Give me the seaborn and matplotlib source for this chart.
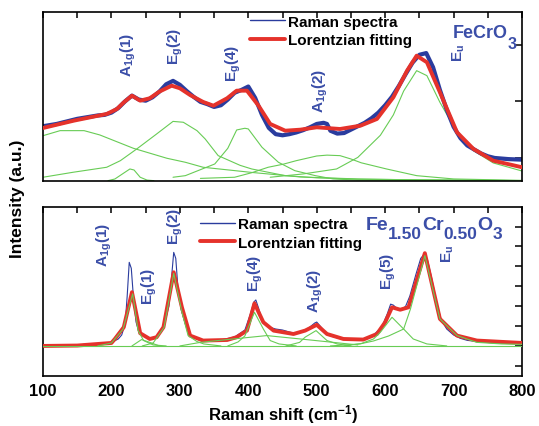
import matplotlib
matplotlib.use("Agg")
import matplotlib.pyplot as plt
from matplotlib.lines import Line2D
import seaborn as sns

# ---------------- FeCrO3 (upper panel) ----------------
fecr_shift = [100, 110, 120, 130, 140, 150, 160, 170, 180, 190, 200, 210, 220, 230, 240,
              250, 260, 270, 280, 290, 300, 310, 320, 330, 340, 350, 360, 370, 380, 390,
              400, 410, 420, 430, 440, 450, 460, 470, 480, 490, 500, 510, 515, 520, 530,
              540, 550, 560, 570, 580, 590, 600, 610, 620, 630, 640, 650, 660, 670, 680,
              690, 700, 710, 720, 730, 740, 750, 760, 770, 780, 790, 800]
fecr_raman = [1560, 1580, 1600, 1630, 1660, 1690, 1710, 1730, 1750, 1760, 1800, 1880, 2000,
              2100, 2030, 2010, 2070, 2170, 2300, 2360, 2290, 2180, 2080, 1990, 1950, 1900,
              1930, 2030, 2150, 2200, 2260, 2060, 1760, 1530, 1420, 1400, 1420, 1450, 1490,
              1540, 1600, 1620, 1600, 1480, 1430, 1440, 1500, 1560, 1620, 1700, 1800, 1930,
              2080, 2270, 2480, 2680, 2820, 2850, 2600, 2200, 1850, 1550, 1350, 1220, 1150,
              1080, 1030, 1000, 990, 980, 975, 970]

fecr_fit_shift = [100, 145, 193, 208, 218, 230, 242, 256, 270, 288, 300, 315, 334, 349, 369,
                  383, 398, 415, 432, 454, 476, 500, 534, 564, 588, 612, 632, 646, 661, 680,
                  705, 729, 758, 800]
fecr_fit = [1529, 1658, 1776, 1864, 1980, 2099, 2011, 2053, 2170, 2275, 2229, 2110, 1988,
            1922, 2053, 2187, 2187, 1922, 1600, 1481, 1499, 1541, 1511, 1570, 1688, 2071,
            2540, 2804, 2688, 2159, 1453, 1159, 952, 836]

# Lorentzian components of the FeCrO3 fit
fecr_low_x = [100, 125, 160, 183, 232, 281, 308, 334, 405, 476, 560, 650, 800]
fecr_low_y = [1393, 1482, 1482, 1406, 1171, 995, 924, 836, 745, 665, 630, 612, 600]
fecr_a1g1_x = [195, 205, 220, 227, 233, 242, 252, 262]
fecr_a1g1_y = [600, 629, 750, 806, 788, 660, 610, 600]
fecr_eg2_x = [100, 144, 193, 213, 237, 266, 290, 305, 325, 337, 356, 388, 405, 454, 500, 560, 800]
fecr_eg2_y = [660, 748, 836, 952, 1159, 1423, 1645, 1630, 1482, 1335, 1041, 870, 806, 688,
              650, 625, 600]
fecr_eg4_x = [290, 308, 351, 370, 383, 395, 400, 420, 444, 468, 498, 524, 560, 800]
fecr_eg4_y = [660, 688, 894, 1170, 1494, 1524, 1512, 1189, 924, 776, 688, 630, 610, 600]
fecr_a1g2_x = [330, 380, 405, 429, 451, 470, 500, 515, 534, 550, 565, 602, 646, 700, 800]
fecr_a1g2_y = [640, 660, 740, 836, 890, 952, 1035, 1050, 1041, 982, 915, 806, 688, 630, 605]
fecr_eu_x = [432, 480, 529, 560, 593, 612, 627, 646, 661, 680, 705, 729, 758, 800]
fecr_eu_y = [660, 718, 806, 1010, 1400, 1760, 2180, 2540, 2452, 1982, 1453, 1129, 912, 770]

fecr_modes = [r"A$_{1g}$(1)", r"E$_{g}$(2)", r"E$_{g}$(4)", r"A$_{1g}$(2)", r"E$_{u}$"]
fecr_mode_x = [224, 293, 378, 505, 707]
fecr_mode_y = [2446, 2658, 2358, 1811, 2711]

# ---------------- Fe1.50Cr0.50O3 (lower panel) ----------------
fe15_shift = [100, 150, 160, 170, 180, 190, 200, 210, 215, 220, 223, 226, 229, 232, 236, 240,
              245, 250, 258, 266, 276, 284, 288, 291, 294, 297, 302, 308, 315, 325, 340, 360,
              380, 395, 403, 408, 411, 415, 420, 430, 440, 450, 460, 470, 480, 490, 497, 500,
              505, 512, 520, 540, 560, 580, 595, 603, 608, 612, 618, 624, 630, 636, 645, 652,
              657, 662, 668, 675, 682, 690, 700, 710, 720, 740, 760, 780, 800]
fe15_raman = [0, 3, 8, 6, 10, 12, 18, 35, 55, 110, 250, 420, 390, 250, 120, 70, 55, 45, 35,
              42, 90, 200, 350, 470, 440, 300, 180, 110, 55, 35, 28, 30, 45, 80, 160, 220,
              231, 190, 130, 95, 85, 80, 70, 62, 72, 95, 115, 120, 100, 70, 50, 32, 28, 45,
              95, 160, 210, 205, 185, 180, 200, 250, 360, 440, 460, 430, 340, 220, 130, 85,
              55, 38, 28, 20, 15, 14, 12]

fe15_fit_shift = [100, 150, 200, 205, 218, 230, 242, 256, 266, 276, 291, 303, 315, 334, 369,
                  383, 398, 409, 422, 437, 466, 483, 500, 515, 539, 568, 588, 600, 610, 622,
                  634, 658, 680, 705, 734, 800]
fe15_fit = [0, 2, 15, 35, 94, 270, 64, 35, 44, 94, 370, 194, 52, 27, 30, 44, 77, 214, 119,
            77, 60, 77, 106, 60, 35, 32, 60, 119, 194, 182, 194, 466, 136, 52, 27, 15]

# Lorentzian components of the Fe1.50Cr0.50O3 fit
fe15_base_x = [100, 800]
fe15_base_y = [0, 0]
fe15_a1g1_x = [180, 200, 217, 231, 239, 247, 261, 280]
fe15_a1g1_y = [0, 15, 85, 262, 77, 27, 5, 0]
fe15_eg1_x = [230, 244, 256, 270]
fe15_eg1_y = [0, 32, 18, 0]
fe15_eg2_x = [245, 261, 277, 291, 303, 312, 325, 335, 360]
fe15_eg2_y = [0, 15, 94, 365, 170, 52, 22, 10, 0]
fe15_broad_x = [300, 330, 378, 427, 476, 524, 560]
fe15_broad_y = [0, 18, 35, 52, 35, 18, 5]
fe15_eg4_x = [370, 385, 395, 409, 422, 432, 445, 470]
fe15_eg4_y = [0, 20, 50, 169, 85, 27, 10, 0]
fe15_a1g2_x = [455, 475, 483, 499, 515, 530, 550]
fe15_a1g2_y = [0, 18, 44, 77, 27, 10, 0]
fe15_eg5_x = [540, 565, 583, 593, 610, 627, 641, 661, 690]
fe15_eg5_y = [0, 12, 35, 69, 144, 85, 35, 10, 0]
fe15_eu_x = [520, 563, 583, 605, 627, 637, 658, 680, 705, 734, 770, 800]
fe15_eu_y = [0, 10, 25, 50, 85, 186, 454, 136, 52, 18, 10, 8]

fe15_modes = [r"A$_{1g}$(1)", r"E$_{g}$(1)", r"E$_{g}$(2)", r"E$_{g}$(4)", r"A$_{1g}$(2)",
              r"E$_{g}$(5)", r"E$_{u}$"]
fe15_mode_x = [189, 256, 294, 410, 498, 604, 691]
fe15_mode_y = [402, 211, 513, 276, 171, 286, 422]

x_ticks = [100, 200, 300, 400, 500, 600, 700, 800]

# ---------------- style ----------------
sns.set_theme(style="white")
plt.rcParams["font.family"] = ["Liberation Sans", "DejaVu Sans"]
plt.rcParams["mathtext.fontset"] = "custom"
plt.rcParams["mathtext.rm"] = "Liberation Sans:bold"
plt.rcParams["mathtext.bf"] = "Liberation Sans:bold"
plt.rcParams["mathtext.it"] = "Liberation Sans:bold"
plt.rcParams["mathtext.default"] = "bf"
plt.rcParams["text.color"] = "black"
plt.rcParams["axes.labelcolor"] = "black"
plt.rcParams["xtick.color"] = "black"
plt.rcParams["ytick.color"] = "black"

BLUE = "#2a3c9e"
LABEL_BLUE = "#3b4ea8"
RED = "#e5322b"
GREEN = "#68cc55"

fig = plt.figure(figsize=(5.39, 4.27), dpi=100)
ax1 = fig.add_axes([0.0798, 0.5738, 0.8887, 0.3958])
ax2 = fig.add_axes([0.0798, 0.1171, 0.8887, 0.3958])


def line(ax, xs, ys, color, lw, z):
    sns.lineplot(x=xs, y=ys, ax=ax, color=color, linewidth=lw, estimator=None,
                 sort=False, zorder=z)


def formula(ax, x, y, parts, size, subsize, drop):
    """Chain text pieces; parts is a list of (text, is_subscript)."""
    prev = ax.text(x, y, parts[0][0], fontsize=size, fontweight="bold",
                   color=LABEL_BLUE, ha="left", va="baseline")
    prev_sub = False
    for text, sub in parts[1:]:
        dy = 0
        if sub and not prev_sub:
            dy = -drop
        elif prev_sub and not sub:
            dy = drop
        prev = ax.annotate(text, xy=(1, 0), xycoords=prev, xytext=(0, dy),
                           textcoords="offset points", ha="left", va="bottom",
                           fontsize=subsize if sub else size, fontweight="bold",
                           color=LABEL_BLUE)
        prev_sub = sub


# upper panel
for xs, ys in [(fecr_low_x, fecr_low_y), (fecr_a1g1_x, fecr_a1g1_y), (fecr_eg2_x, fecr_eg2_y),
               (fecr_eg4_x, fecr_eg4_y), (fecr_a1g2_x, fecr_a1g2_y), (fecr_eu_x, fecr_eu_y)]:
    line(ax1, xs, ys, GREEN, 0.8, 1)
line(ax1, fecr_shift, fecr_raman, BLUE, 3.0, 2)
line(ax1, fecr_fit_shift, fecr_fit, RED, 2.8, 3)
ax1.set_xlim(100, 800)
ax1.set_ylim(594, 3575)
ax1.set_yticks([1000, 2000, 3000])
for s, x, y in zip(fecr_modes, fecr_mode_x, fecr_mode_y):
    ax1.text(x, y, s, rotation=90, ha="center", va="bottom", fontsize=11,
             fontweight="bold", color=LABEL_BLUE)
formula(ax1, 699, 3134, [("FeCrO", False), ("3", True)], 13, 11.5, 7)

# lower panel
for xs, ys in [(fe15_base_x, fe15_base_y), (fe15_a1g1_x, fe15_a1g1_y), (fe15_eg1_x, fe15_eg1_y),
               (fe15_eg2_x, fe15_eg2_y), (fe15_broad_x, fe15_broad_y), (fe15_eg4_x, fe15_eg4_y),
               (fe15_a1g2_x, fe15_a1g2_y), (fe15_eg5_x, fe15_eg5_y), (fe15_eu_x, fe15_eu_y)]:
    line(ax2, xs, ys, GREEN, 0.8, 4)
line(ax2, fe15_shift, fe15_raman, BLUE, 0.8, 2)
line(ax2, fe15_fit_shift, fe15_fit, RED, 2.8, 3)
ax2.set_xlim(100, 800)
ax2.set_ylim(-151, 698)
ax2.set_yticks(list(range(-100, 700, 100)))
for s, x, y in zip(fe15_modes, fe15_mode_x, fe15_mode_y):
    ax2.text(x, y, s, rotation=90, ha="center", va="bottom", fontsize=11,
             fontweight="bold", color=LABEL_BLUE)
formula(ax2, 571, 588, [("Fe", False), ("1.50", True), ("Cr", False), ("0.50", True),
                        ("O", False), ("3", True)], 14, 12.5, 6)

# axes styling
for ax in (ax1, ax2):
    ax.set_xticks(list(range(100, 801, 50)))
    ax.tick_params(direction="in", top=True, right=True, width=1.1,
                   colors="black", labelleft=False)
    ax.tick_params(axis="x", length=4.5)
    ax.tick_params(axis="y", length=5)
    for sp in ax.spines.values():
        sp.set_visible(True)
        sp.set_color("black")
        sp.set_linewidth(1.2)
    ax.set_xlabel("")
    ax.set_ylabel("")
    handles = [Line2D([], [], color=BLUE, lw=1.0), Line2D([], [], color=RED, lw=2.8)]
    if ax is ax1:
        anchor = (0.432, 0.985)
    else:
        anchor = (0.328, 0.94)
    ax.legend(handles, ["Raman spectra", "Lorentzian fitting"], loc="upper left",
              bbox_to_anchor=anchor, frameon=False, borderaxespad=0, borderpad=0,
              handlelength=2.3, handletextpad=0.2, labelspacing=0.3,
              prop={"weight": "bold", "size": 11})

ax1.tick_params(labelbottom=False)
ax2.set_xticklabels([str(v) if v in x_ticks else "" for v in range(100, 801, 50)],
                    fontsize=12, fontweight="bold")
ax2.tick_params(axis="x", pad=5)
ax2.set_xlabel(r"Raman shift (cm$^{-1}$)", fontsize=12, fontweight="bold", labelpad=3)
fig.text(0.033, 0.534, "Intensity (a.u.)", rotation=90, ha="center", va="center",
         fontsize=12.5, fontweight="bold")

fig.savefig("out.png", dpi=100, facecolor="white")
